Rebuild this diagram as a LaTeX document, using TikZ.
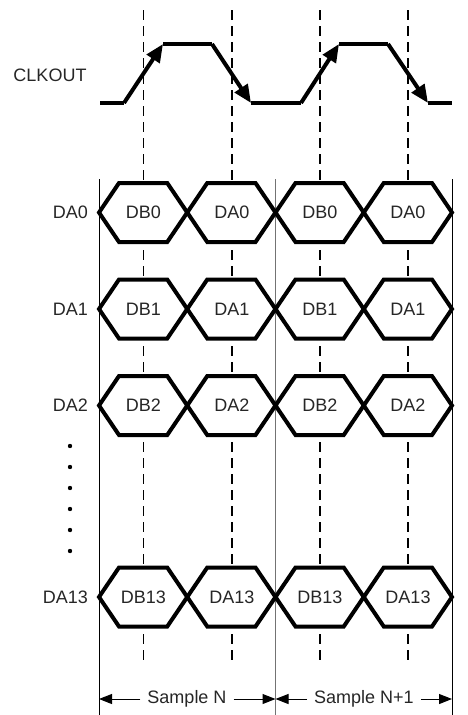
\documentclass[tikz,border=0pt]{standalone}
\usepackage{fontspec}
\setmainfont{Liberation Sans}
\usetikzlibrary{arrows.meta}
\begin{document}
\begin{tikzpicture}[x=1pt,y=-1pt,
  lbl/.style={font=\fontsize{18}{21}\selectfont, inner sep=0pt, text=black!85},
  guide/.style={line width=1.1pt, dash pattern=on 10pt off 6pt},
  frame/.style={line width=1pt},
  midframe/.style={line width=1.2pt, black!55},
  hexfill/.style={fill=white},
  hexline/.style={line width=4pt, line join=miter},
  clk/.style={line width=4pt, line join=miter},
  clkarrow/.style={clk, -{Triangle[length=18pt,width=15pt]}},
  dimarrow/.style={line width=1pt, -{Triangle[length=13pt,width=10pt]}},
  dotmark/.style={fill=black}
]
\useasboundingbox (0,0) rectangle (467,715);

% dashed guide lines
\foreach \gx in {143.5,232,320,408}
  \draw[guide] (\gx,10) -- (\gx,662);

% frame lines
\draw[frame] (99,179) -- (99,715);
\draw[frame] (452,179) -- (452,715);
\draw[midframe] (275.5,179) -- (275.5,715);

% CLKOUT waveform
\node[lbl] (clklabel) at (50,75) {CLKOUT};
\coordinate (c0) at (100,103);
\coordinate (c1) at (124,103);
\coordinate (c2) at (163,44);
\coordinate (c3) at (212,44);
\coordinate (c4) at (251,103);
\coordinate (c5) at (301,103);
\coordinate (c6) at (339,44);
\coordinate (c7) at (388,44);
\coordinate (c8) at (428,103);
\coordinate (c9) at (452,103);
\draw[clk] (c0) -- (c1);
\draw[clkarrow] (c1) -- (c2);
\draw[clk] (c2) -- (c3);
\draw[clkarrow] (c3) -- (c4);
\draw[clk] (c4) -- (c5);
\draw[clkarrow] (c5) -- (c6);
\draw[clk] (c6) -- (c7);
\draw[clkarrow] (c7) -- (c8);
\draw[clk] (c8) -- (c9);

% bus rows: fill then outline
\foreach \ry in {212.5,309,405.5,597}{
  \foreach \cx in {99,187.25,275.5,363.75}{
    \fill[hexfill] (\cx,\ry) -- ++(20,-29.5) -- ++(48.25,0) -- ++(20,29.5)
      -- ++(-20,29.5) -- ++(-48.25,0) -- cycle;
  }
}
\foreach \ry in {212.5,309,405.5,597}{
  \foreach \cx in {99,187.25,275.5,363.75}{
    \draw[hexline] (\cx,\ry) -- ++(20,-29.5) -- ++(48.25,0) -- ++(20,29.5)
      -- ++(-20,29.5) -- ++(-48.25,0) -- cycle;
  }
}

% row labels and cell texts
\foreach \ry/\n [count=\i] in {212.5/0,309/1,405.5/2,597/13}{
  \node[lbl, anchor=east] (row\i) at (88,\ry) {DA\n};
  \node[lbl] (cellA\i) at (143.5,\ry) {DB\n};
  \node[lbl] (cellB\i) at (232,\ry) {DA\n};
  \node[lbl] (cellC\i) at (320,\ry) {DB\n};
  \node[lbl] (cellD\i) at (408,\ry) {DA\n};
}

% vertical ellipsis dots
\foreach \dy in {446,467,488,509,530,551}
  \fill[dotmark] (70,\dy) circle (2.2pt);

% sample period annotations
\node[lbl, inner xsep=7pt] (sampN) at (187,699) {Sample N};
\node[lbl, inner xsep=7pt] (sampN1) at (364,699) {Sample N+1};
\coordinate (aL) at (99,699);
\coordinate (aM) at (275.5,699);
\coordinate (aR) at (452,699);
\draw[dimarrow] (sampN.west) -- (aL);
\draw[dimarrow] (sampN.east) -- (aM);
\draw[dimarrow] (sampN1.west) -- (aM);
\draw[dimarrow] (sampN1.east) -- (aR);
\end{tikzpicture}
\end{document}
